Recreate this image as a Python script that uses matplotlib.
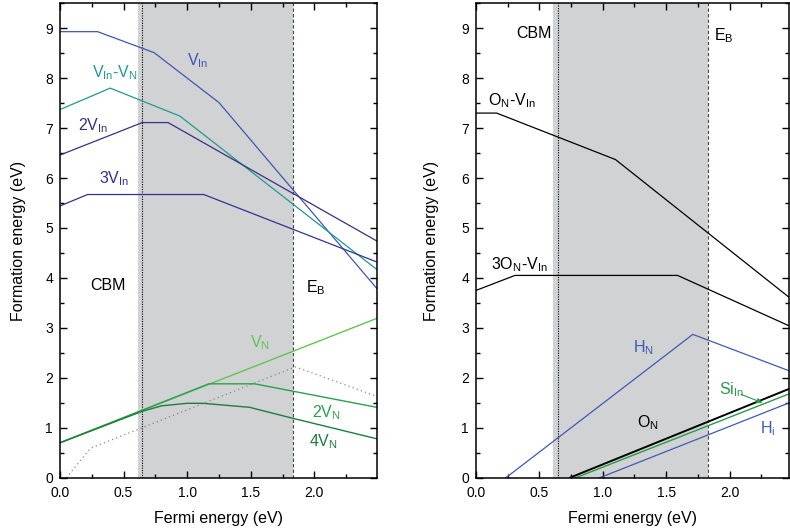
import numpy as np
import matplotlib
matplotlib.use('Agg')
import matplotlib.pyplot as plt
from matplotlib.ticker import MultipleLocator

plt.rcParams['font.family'] = ['Liberation Sans', 'DejaVu Sans']
plt.rcParams['mathtext.fontset'] = 'custom'
plt.rcParams['mathtext.rm'] = 'Liberation Sans'
plt.rcParams['mathtext.it'] = 'Liberation Sans'

# band limits (eV)
cbm = 0.647
shade_lo, shade_hi = 0.61, 1.83
e_b = 1.83

# left panel: intrinsic defects (Fermi energy, formation energy)
v_in_x = [0.0, 0.296, 0.74, 1.25, 2.49]
v_in_y = [8.93, 8.93, 8.51, 7.51, 3.79]
vinvn_x = [0.0, 0.395, 0.943, 2.49]
vinvn_y = [7.37, 7.80, 7.24, 4.17]
v2in_x = [0.0, 0.647, 0.85, 2.49]
v2in_y = [6.46, 7.11, 7.11, 4.74]
v3in_x = [0.0, 0.217, 1.13, 2.49]
v3in_y = [5.44, 5.67, 5.67, 4.32]
vn_x = [0.0, 2.49]
vn_y = [0.70, 3.19]
v2n_x = [0.0, 1.17, 1.53, 2.49]
v2n_y = [0.70, 1.88, 1.88, 1.41]
v4n_x = [0.0, 0.647, 0.8, 1.0, 1.126, 1.49, 1.83, 2.49]
v4n_y = [0.70, 1.33, 1.44, 1.49, 1.49, 1.41, 1.19, 0.78]
dot_x = [0.05, 0.24, 1.85, 2.49]
dot_y = [0.0, 0.59, 2.22, 1.63]

# right panel: impurities
onvin_x = [0.0, 0.163, 1.10, 2.47]
onvin_y = [7.30, 7.30, 6.37, 3.61]
on3vin_x = [0.0, 0.307, 1.59, 2.47]
on3vin_y = [3.75, 4.05, 4.05, 3.04]
hn_x = [0.236, 1.71, 2.47]
hn_y = [0.0, 2.87, 2.14]
on_x = [0.74, 2.47]
on_y = [0.0, 1.78]
siin_x = [0.787, 2.47]
siin_y = [0.0, 1.68]
hi_x = [0.976, 2.47]
hi_y = [0.0, 1.50]

fig = plt.figure(figsize=(7.9, 5.32), dpi=100)
ax1 = fig.add_axes([0.0759, 0.102, 0.401, 0.892])
ax2 = fig.add_axes([0.6025, 0.102, 0.3965, 0.892])


def style(ax, xmax, ylab_x):
    ax.axvspan(shade_lo, shade_hi, color='#d1d2d4', lw=0, zorder=0)
    ax.axvline(cbm, color='black', ls=(0, (1, 1.2)), lw=0.8, zorder=1)
    ax.axvline(e_b, color='#444444', ls=(0, (3, 2)), lw=0.8, zorder=1)
    ax.set_xlim(0, xmax)
    ax.set_ylim(0, 9.5)
    ax.xaxis.set_major_locator(MultipleLocator(0.5))
    ax.xaxis.set_minor_locator(MultipleLocator(0.25))
    ax.yaxis.set_major_locator(MultipleLocator(1))
    ax.yaxis.set_minor_locator(MultipleLocator(0.5))
    ax.set_xticks([0, 0.5, 1.0, 1.5, 2.0])
    ax.set_xticklabels(['0.0', '0.5', '1.0', '1.5', '2.0'])
    ax.tick_params(which='both', direction='in', top=True, right=True, labelsize=10)
    ax.tick_params(axis='x', pad=6)
    ax.tick_params(axis='y', pad=5)
    ax.tick_params(which='major', length=5, width=1)
    ax.tick_params(which='minor', length=3, width=1)
    for s in ax.spines.values():
        s.set_linewidth(1.1)
    ax.set_xlabel('Fermi energy (eV)', fontsize=11.5)
    ax.set_ylabel('Formation energy (eV)', fontsize=11.5)
    ax.xaxis.set_label_coords(0.5, -0.07)
    ax.yaxis.set_label_coords(ylab_x, 0.5)


style(ax1, 2.49, -0.106)
style(ax2, 2.47, -0.117)

fs = 11.5
# left panel
ax1.plot(dot_x, dot_y, color='#888888', ls=(0, (1, 2.5)), lw=0.9)
ax1.plot(v_in_x, v_in_y, color='#3f57b3', lw=0.9)
ax1.plot(vinvn_x, vinvn_y, color='#1f9a90', lw=0.9)
ax1.plot(v2in_x, v2in_y, color='#3a2f85', lw=0.9)
ax1.plot(v3in_x, v3in_y, color='#2f3394', lw=0.9)
ax1.plot(vn_x, vn_y, color='#66c255', lw=1.0)
ax1.plot(v2n_x, v2n_y, color='#2ca04c', lw=1.0)
ax1.plot(v4n_x, v4n_y, color='#1e7d3f', lw=1.0)

ax1.text(1.0, 8.35, r'V$_{\mathrm{In}}$', color='#3f57b3', fontsize=fs, va='center')
ax1.text(0.25, 8.1, r'V$_{\mathrm{In}}$-V$_{\mathrm{N}}$', color='#1f9a90', fontsize=fs, va='center')
ax1.text(0.14, 7.05, r'2V$_{\mathrm{In}}$', color='#3a2f85', fontsize=fs, va='center')
ax1.text(0.31, 5.98, r'3V$_{\mathrm{In}}$', color='#2f3394', fontsize=fs, va='center')
ax1.text(0.24, 3.85, 'CBM', color='black', fontsize=fs, va='center')
ax1.text(1.93, 3.8, r'E$_{\mathrm{B}}$', color='black', fontsize=fs, va='center')
ax1.text(1.49, 2.7, r'V$_{\mathrm{N}}$', color='#66c255', fontsize=fs, va='center')
ax1.text(1.98, 1.3, r'2V$_{\mathrm{N}}$', color='#2ca04c', fontsize=fs, va='center')
ax1.text(1.96, 0.73, r'4V$_{\mathrm{N}}$', color='#1e7d3f', fontsize=fs, va='center')

# right panel
ax2.plot(onvin_x, onvin_y, color='black', lw=0.9)
ax2.plot(on3vin_x, on3vin_y, color='black', lw=0.9)
ax2.plot(hn_x, hn_y, color='#3f5ab5', lw=0.9)
ax2.plot(on_x, on_y, color='black', lw=1.4)
ax2.plot(siin_x, siin_y, color='#2a9a48', lw=1.0)
ax2.plot(hi_x, hi_y, color='#3f5ab5', lw=0.9)

ax2.text(0.32, 8.9, 'CBM', color='black', fontsize=fs, va='center')
ax2.text(1.88, 8.85, r'E$_{\mathrm{B}}$', color='black', fontsize=fs, va='center')
ax2.text(0.095, 7.55, r'O$_{\mathrm{N}}$-V$_{\mathrm{In}}$', color='black', fontsize=fs, va='center')
ax2.text(0.12, 4.27, r'3O$_{\mathrm{N}}$-V$_{\mathrm{In}}$', color='black', fontsize=fs, va='center')
ax2.text(1.24, 2.6, r'H$_{\mathrm{N}}$', color='#3f5ab5', fontsize=fs, va='center')
ax2.text(1.27, 1.1, r'O$_{\mathrm{N}}$', color='black', fontsize=fs, va='center')
ax2.text(1.92, 1.76, r'Si$_{\mathrm{In}}$', color='#2a9a48', fontsize=fs, va='center')
ax2.text(2.24, 0.98, r'H$_{\mathrm{i}}$', color='#3f5ab5', fontsize=fs, va='center')
ax2.annotate('', xy=(2.26, 1.50), xytext=(2.09, 1.67),
             arrowprops=dict(arrowstyle='-|>', color='#2a9a48', lw=0.8,
                             mutation_scale=8, shrinkA=0, shrinkB=0))

fig.savefig('out.png', dpi=100)
